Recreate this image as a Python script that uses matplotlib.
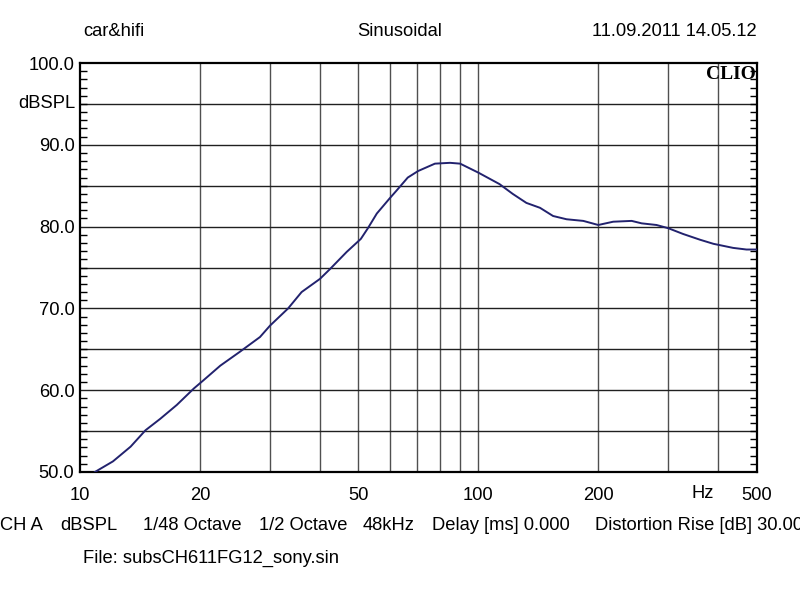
import matplotlib
matplotlib.use("Agg")
import matplotlib.pyplot as plt
from matplotlib.ticker import MultipleLocator, FixedLocator, NullFormatter

plt.rcParams['font.family'] = ['Liberation Sans', 'DejaVu Sans']

# response (Hz, dBSPL)
freq = [10.9, 12.1, 13.4, 14.6, 15.9, 17.5, 19.3, 20.4, 22.5, 25.2, 28.3, 30, 33.3,
        36, 40, 42.4, 46.7, 50.7, 52.8, 55.6, 60, 62.3, 66.5, 70.6, 77.8, 84.9, 90,
        100, 113, 122, 132, 142.8, 154, 166.5, 183.4, 200, 218, 242.6, 257, 280, 300,
        326.6, 360, 389, 436, 471, 500]
spl = [50.0, 51.3, 53.1, 55.1, 56.5, 58.2, 60.2, 61.2, 63.0, 64.7, 66.5, 67.9, 70.0,
       72.0, 73.6, 74.8, 76.9, 78.5, 79.8, 81.6, 83.5, 84.4, 86.0, 86.8, 87.7, 87.8, 87.7,
       86.6, 85.2, 84.0, 82.9, 82.3, 81.3, 80.9, 80.7, 80.2, 80.6, 80.7, 80.4, 80.2, 79.8,
       79.1, 78.4, 77.9, 77.4, 77.2, 77.2]

x_ticks = [10, 20, 50, 100, 200, 500]
x_grid = [20, 30, 40, 50, 60, 70, 80, 90, 100, 200, 300, 400]
y_ticks = [50, 60, 70, 80, 90, 100]
y_grid = [55, 60, 65, 70, 75, 80, 85, 90, 95]

# footer pieces and their left edge (px)
footer = ['CH A', 'dBSPL', '1/48 Octave', '1/2 Octave', '48kHz', 'Delay [ms] 0.000',
          'Distortion Rise [dB] 30.00']
footer_x = [0, 60, 143, 259, 363, 432, 595]

FS = 13.2

fig = plt.figure(figsize=(8, 5.97), dpi=100)
ax = fig.add_axes([0.1, 0.2094, 0.846, 0.685])

for f in x_grid:
    ax.axvline(f, color='#505050', lw=1.0, zorder=1)
for v in y_grid:
    ax.axhline(v, color='#202020', lw=1.0, zorder=1)

ax.plot(freq, spl, color='#22226e', lw=1.4, zorder=3)

ax.set_xscale('log')
ax.set_xlim(10, 500)
ax.set_ylim(50, 100)

ax.xaxis.set_major_locator(FixedLocator(x_ticks))
ax.set_xticklabels([str(t) for t in x_ticks])
ax.xaxis.set_minor_locator(FixedLocator([]))
ax.xaxis.set_minor_formatter(NullFormatter())
ax.tick_params(axis='x', which='both', length=0, pad=11, labelsize=FS)

ax.set_yticks(y_ticks)
ax.set_yticklabels(['%.1f' % t for t in y_ticks])
ax.yaxis.set_minor_locator(MultipleLocator(1))
ax.tick_params(axis='y', which='major', length=0, pad=4, labelsize=FS)
ax.tick_params(axis='y', which='minor', direction='in', length=5, width=1,
               left=True, right=True)

for s in ax.spines.values():
    s.set_linewidth(1.6)
    s.set_color('black')

ax.text(-0.007, 95, 'dBSPL', transform=ax.get_yaxis_transform(), ha='right',
        va='center', fontsize=FS)
ax.text(0.92, -0.052, 'Hz', transform=ax.transAxes, ha='center', va='center',
        fontsize=FS)
ax.text(0.998, 0.993, 'CLIO', transform=ax.transAxes, ha='right', va='top',
        fontsize=14, fontweight='bold', family=['Liberation Serif', 'DejaVu Serif'])

fig.text(83 / 800, 1 - 32 / 597, 'car&hifi', ha='left', va='center', fontsize=FS)
fig.text(400 / 800, 1 - 32 / 597, 'Sinusoidal', ha='center', va='center', fontsize=FS)
fig.text(757 / 800, 1 - 32 / 597, '11.09.2011 14.05.12', ha='right', va='center',
         fontsize=FS)
for label, px in zip(footer, footer_x):
    fig.text(px / 800, 1 - 526 / 597, label, ha='left', va='center', fontsize=FS)
fig.text(83 / 800, 1 - 558 / 597, 'File: subsCH611FG12_sony.sin', ha='left',
         va='center', fontsize=FS)

fig.savefig('out.png', dpi=100, facecolor='white')
